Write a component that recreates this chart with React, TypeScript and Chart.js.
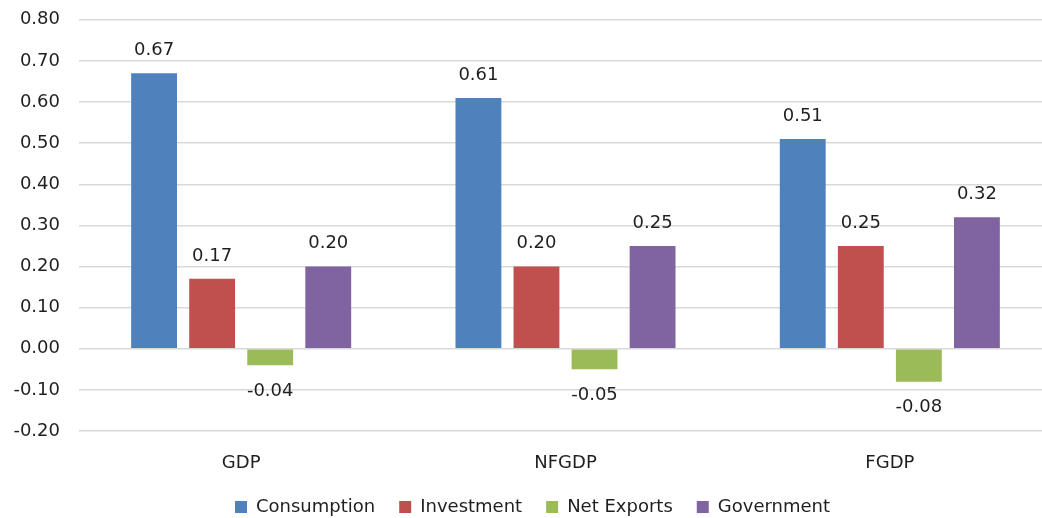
import React, { useEffect, useRef } from "react";
import { Chart, registerables } from "chart.js";

Chart.register(...registerables);

const categories = ["GDP", "NFGDP", "FGDP"];
const consumption = [0.67, 0.61, 0.51];
const investment = [0.17, 0.2, 0.25];
const netExports = [-0.04, -0.05, -0.08];
const government = [0.2, 0.25, 0.32];
const seriesNames = ["Consumption", "Investment", "Net Exports", "Government"];
const colors = ["#4F81BD", "#C0504D", "#9BBB59", "#8064A2"];

const FONT = "'DejaVu Sans', sans-serif";
const TEXT = "#1f1f1f";

const labelPlugin = {
  id: "valueLabels",
  afterDatasetsDraw(chart: any) {
    const ctx = chart.ctx;
    ctx.save();
    ctx.font = `18px ${FONT}`;
    ctx.fillStyle = TEXT;
    ctx.textAlign = "center";
    ctx.textBaseline = "middle";
    chart.data.datasets.forEach((ds: any, i: number) => {
      const meta = chart.getDatasetMeta(i);
      meta.data.forEach((el: any, j: number) => {
        const v = ds.data[j] as number;
        const y = v >= 0 ? el.y - 23 : el.y + 26;
        ctx.fillText(v.toFixed(2), el.x, y);
      });
    });
    ctx.restore();
  },
};

export default function App() {
  const ref = useRef<HTMLCanvasElement | null>(null);
  useEffect(() => {
    if (!ref.current) return;
    const data = [consumption, investment, netExports, government];
    const chart = new Chart(ref.current, {
      type: "bar",
      data: {
        labels: categories,
        datasets: seriesNames.map((name, i) => ({
          label: name,
          data: data[i],
          backgroundColor: colors[i],
          borderWidth: 0,
          barPercentage: 0.79,
          categoryPercentage: 0.716,
        })),
      },
      options: {
        responsive: false,
        animation: false,
        devicePixelRatio: 1,
        layout: { padding: { left: 13, right: 0, top: 0, bottom: -8 } },
        plugins: {
          legend: {
            position: "bottom",
            labels: {
              boxWidth: 12,
              boxHeight: 12,
              padding: 24,
              color: TEXT,
              font: { family: FONT, size: 18 },
            },
          },
          tooltip: { enabled: false },
        },
        scales: {
          x: {
            grid: { display: false, drawTicks: false },
            border: { display: false },
            ticks: { color: TEXT, font: { family: FONT, size: 18 }, padding: 22 },
            afterFit: (scale: any) => {
              scale.height = 43;
            },
          },
          y: {
            min: -0.2,
            max: 0.8,
            ticks: {
              stepSize: 0.1,
              color: TEXT,
              font: { family: FONT, size: 18 },
              padding: 9,
              callback: (v: any) => Number(v).toFixed(2),
            },
            grid: {
              color: "#D9D9D9",
              lineWidth: 1.5,
              drawTicks: true,
              tickLength: 10,
              tickColor: "rgba(0,0,0,0)",
            },
            border: { display: false },
            afterFit: (scale: any) => {
              scale.width = 66;
            },
          },
        },
      },
      plugins: [labelPlugin],
    });
    return () => chart.destroy();
  }, []);
  return (
    <div
      style={{
        position: "fixed",
        left: 0,
        top: 0,
        width: 1042,
        height: 518,
        overflow: "hidden",
        background: "#fff",
      }}
    >
      <canvas ref={ref} width={1052} height={518} style={{ display: "block" }} />
    </div>
  );
}
